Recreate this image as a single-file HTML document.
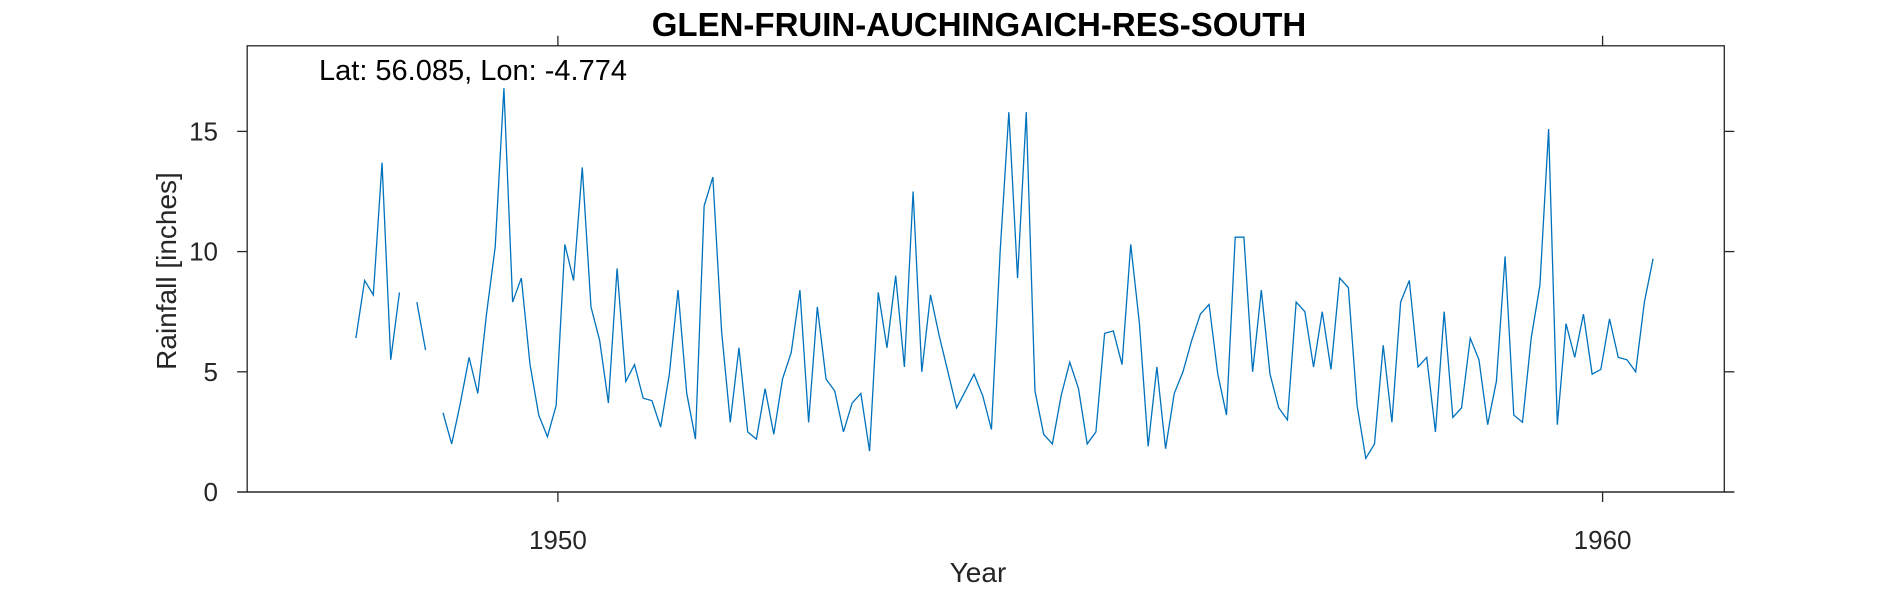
<!DOCTYPE html>
<html><head><meta charset="utf-8"><style>
html,body{margin:0;padding:0;background:#fff;}
svg{display:block;font-family:"Liberation Sans",Arial,sans-serif;}
</style></head><body>
<svg id="chart" width="1890" height="591" viewBox="0 0 1890 591" xmlns="http://www.w3.org/2000/svg">
<text x="979" y="36" text-anchor="middle" font-size="33" font-weight="bold" fill="#000">GLEN-FRUIN-AUCHINGAICH-RES-SOUTH</text>
<g id="axes"></g>
<g id="series"></g>
<text x="319" y="80" font-size="29" fill="#000">Lat: 56.085, Lon: -4.774</text>
<text x="978" y="582" text-anchor="middle" font-size="28" fill="#262626">Year</text>
<text transform="translate(176,271) rotate(-90)" text-anchor="middle" font-size="28" fill="#262626">Rainfall [inches]</text>
</svg>
<script>
const startYear = 1948;
const rainfall = [6.4,8.8,8.2,13.7,5.5,8.3,null,7.9,5.9,null,
3.3,2.0,3.7,5.6,4.1,7.4,10.2,16.8,7.9,8.9,
5.3,3.2,2.3,3.6,10.3,8.8,13.5,7.7,6.3,3.7,
9.3,4.6,5.3,3.9,3.8,2.7,4.9,8.4,4.1,2.2,
11.9,13.1,6.7,2.9,6.0,2.5,2.2,4.3,2.4,4.7,
5.8,8.4,2.9,7.7,4.7,4.2,2.5,3.7,4.1,1.7,
8.3,6.0,9.0,5.2,12.5,5.0,8.2,6.5,5.0,3.5,
4.2,4.9,4.0,2.6,10.0,15.8,8.9,15.8,4.2,2.4,
2.0,4.0,5.4,4.3,2.0,2.5,6.6,6.7,5.3,10.3,
7.0,1.9,5.2,1.8,4.1,5.0,6.3,7.4,7.8,4.9,
3.2,10.6,10.6,5.0,8.4,4.9,3.5,3.0,7.9,7.5,
5.2,7.5,5.1,8.9,8.5,3.6,1.4,2.0,6.1,2.9,
7.9,8.8,5.2,5.6,2.5,7.5,3.1,3.5,6.4,5.5,
2.8,4.6,9.8,3.2,2.9,6.4,8.6,15.1,2.8,7.0,
5.6,7.4,4.9,5.1,7.2,5.6,5.5,5.0,7.9,9.7];
const xTicks = [1950, 1960];
const yTicks = [0, 5, 10, 15];

const NS = "http://www.w3.org/2000/svg";
const L = 247.2, R = 1724.3, T = 45.8, B = 492;
const xMin = 1947.026, xMax = 1961.165, yMin = 0, yMax = 18.56;
const xs = v => L + (v - xMin) / (xMax - xMin) * (R - L);
const ys = v => B - (v - yMin) / (yMax - yMin) * (B - T);
function mk(tag, attrs, parent) {
  const e = document.createElementNS(NS, tag);
  for (const k in attrs) e.setAttribute(k, attrs[k]);
  parent.appendChild(e); return e;
}
const axes = document.getElementById('axes');
const box = mk('rect', {x: L, y: T, width: R - L, height: B - T, fill: 'none', stroke: '#262626', 'stroke-width': 1.3}, axes);


const bl = mk('line', {x1: L - 10, x2: R + 10, y1: B, y2: B, stroke: '#262626', 'stroke-width': 1.3}, axes);


xTicks.forEach(t => {
  const x = xs(t);
  const a = mk('line', {x1: x, x2: x, y1: B, y2: B + 10, stroke: '#262626', 'stroke-width': 1.3}, axes);
  
  
  const b = mk('line', {x1: x, x2: x, y1: T, y2: T - 10, stroke: '#262626', 'stroke-width': 1.3}, axes);
  
  
  const tx = mk('text', {x: x, y: 549, 'text-anchor': 'middle', 'font-size': 26, fill: '#262626'}, axes);
  tx.textContent = t;
  
  
});
yTicks.forEach(t => {
  const y = ys(t);
  const a = mk('line', {x1: L - 10, x2: L, y1: y, y2: y, stroke: '#262626', 'stroke-width': 1.3}, axes);
  
  
  const b = mk('line', {x1: R, x2: R + 10, y1: y, y2: y, stroke: '#262626', 'stroke-width': 1.3}, axes);
  
  
  const tx = mk('text', {x: 218, y: y + 9, 'text-anchor': 'end', 'font-size': 26, fill: '#262626'}, axes);
  tx.textContent = t;
  
  
});
const series = document.getElementById('series');
let d = '', pen = false;
rainfall.forEach((v, i) => {
  if (v === null) { pen = false; return; }
  const x = xs(startYear + (i + 0.8) / 12), y = ys(v);
  d += (pen ? 'L' : 'M') + x.toFixed(2) + ' ' + y.toFixed(2);
  pen = true;
});
const p = mk('path', {d: d, fill: 'none', stroke: '#0072BD', 'stroke-width': 1.3, 'stroke-linejoin': 'miter'}, series);


</script>
</body></html>
